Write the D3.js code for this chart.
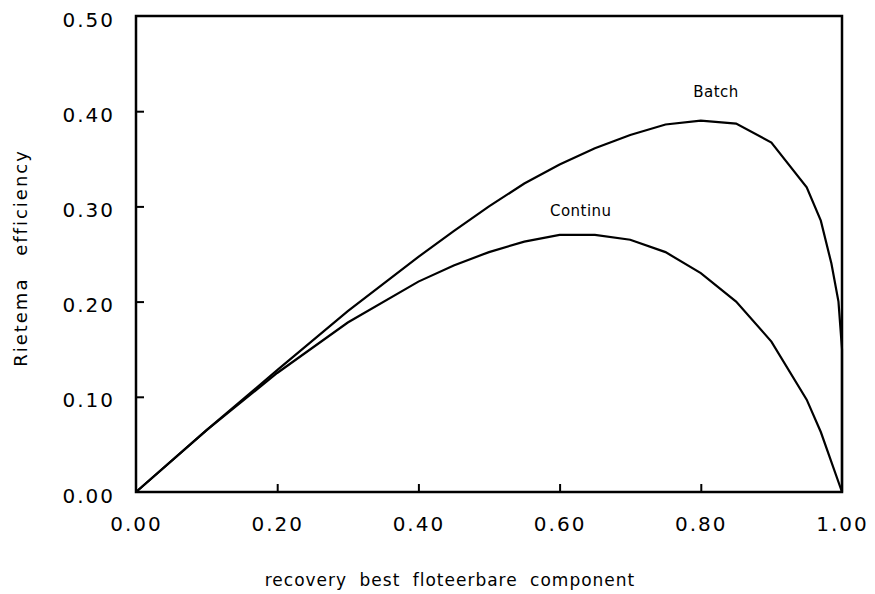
<!DOCTYPE html>
<html><head><meta charset="utf-8">
<script src="https://cdn.jsdelivr.net/npm/d3@7"></script>
<style>body{margin:0;background:#fff}svg{display:block}</style>
</head><body>
<svg id="c" width="875" height="594"></svg>
<script>
const batchX = [0,0.1,0.2,0.3,0.4,0.45,0.5,0.55,0.6,0.65,0.7,0.75,0.8,0.85,0.9,0.95,0.97,0.985,0.995,1.0,1.0];
const batchY = [0,0.065,0.128,0.19,0.247,0.274,0.30,0.324,0.344,0.361,0.375,0.386,0.39,0.387,0.367,0.32,0.285,0.24,0.2,0.15,0.0];
const contX = [0,0.1,0.2,0.3,0.4,0.45,0.5,0.55,0.6,0.65,0.7,0.75,0.8,0.85,0.9,0.95,0.97,1.0];
const contY = [0,0.065,0.125,0.178,0.221,0.238,0.252,0.263,0.27,0.27,0.265,0.252,0.23,0.2,0.158,0.097,0.063,0.0];
const xTicks = [0,0.2,0.4,0.6,0.8,1.0];
const yTicks = [0,0.1,0.2,0.3,0.4,0.5];
const labels = [{t:"Batch",x:0.8215,y:0.415},{t:"Continu",x:0.63,y:0.29}];

const svg = d3.select("#c");
const x = d3.scaleLinear().domain([0,1]).range([136,842]);
const y = d3.scaleLinear().domain([0,0.5]).range([492,16]);
const font = "'DejaVu Sans', sans-serif";

svg.append("rect").attr("x",x(0)).attr("y",y(0.5)).attr("width",x(1)-x(0)).attr("height",y(0)-y(0.5))
  .attr("fill","none").attr("stroke","#000").attr("stroke-width",2.5);

const xa = svg.append("g").attr("transform",`translate(0,${y(0)})`)
  .call(d3.axisBottom(x).tickValues(xTicks).tickSize(-8).tickPadding(25).tickFormat(d3.format(".2f")));
const ya = svg.append("g").attr("transform",`translate(${x(0)},0)`)
  .call(d3.axisLeft(y).tickValues(yTicks).tickSize(-8).tickPadding(21).tickFormat(d3.format(".2f")));
[xa,ya].forEach(g=>{
  g.select(".domain").remove();
  g.selectAll(".tick line").attr("stroke","#000").attr("stroke-width",2);
  g.selectAll(".tick text").attr("fill","#000").style("font-family",font).style("font-size","20px").style("letter-spacing","2px");
});
ya.selectAll(".tick text").attr("dy","0.5em");
xa.selectAll(".tick line").filter(d=>d===0||d===1).remove();
ya.selectAll(".tick line").filter(d=>d===0||d===0.5).remove();

const line = d3.line().x(d=>x(d[0])).y(d=>y(d[1]));
svg.append("path").datum(batchX.map((v,i)=>[v,batchY[i]])).attr("d",line)
  .attr("fill","none").attr("stroke","#000").attr("stroke-width",2.2);
svg.append("path").datum(contX.map((v,i)=>[v,contY[i]])).attr("d",line)
  .attr("fill","none").attr("stroke","#000").attr("stroke-width",2.2);

svg.selectAll(".lbl").data(labels).enter().append("text")
  .attr("x",d=>x(d.x)).attr("y",d=>y(d.y)).attr("text-anchor","middle")
  .style("font-family",font).style("font-size","15px").style("letter-spacing","0.5px").text(d=>d.t);

svg.append("text").attr("x",450).attr("y",586).attr("text-anchor","middle")
  .style("font-family",font).style("font-size","17px").style("word-spacing","6px").style("letter-spacing","1px")
  .text("recovery best floteerbare component");
svg.append("text").attr("transform","translate(27,258) rotate(-90)").attr("text-anchor","middle")
  .style("font-family",font).style("font-size","18px").style("word-spacing","14px").style("letter-spacing","2px")
  .text("Rietema efficiency");
</script>
</body></html>
